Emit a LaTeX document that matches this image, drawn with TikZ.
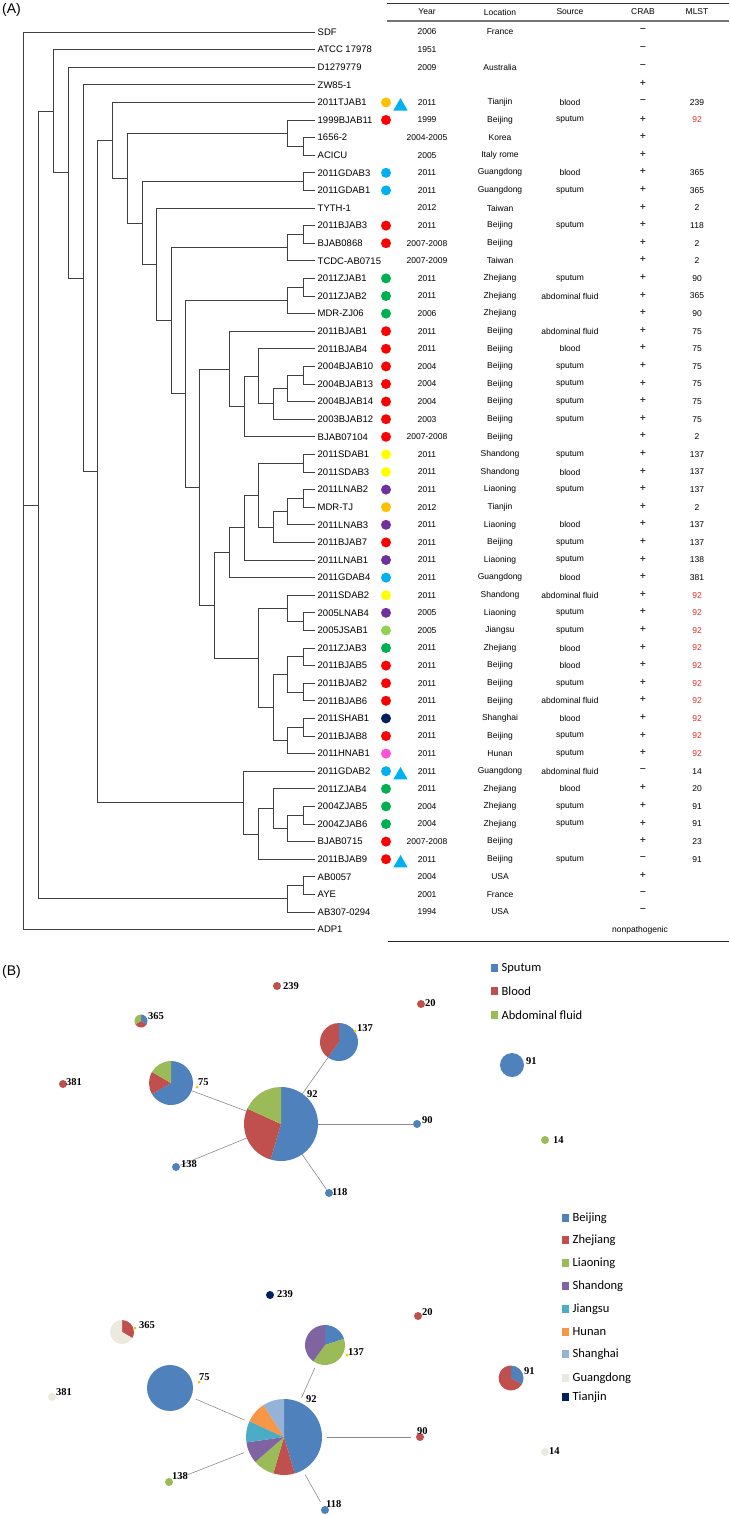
\documentclass[tikz,border=0pt]{standalone}
\usepackage{fontspec}
\setmainfont{Liberation Sans}
\newfontfamily\numfont{Liberation Serif}
\newfontfamily\legfont{Carlito}
\usepackage{tikz}
\usetikzlibrary{positioning,calc,shapes.geometric}
\definecolor{isored}{RGB}{255,0,0}
\definecolor{isoorange}{RGB}{255,192,0}
\definecolor{isocyan}{RGB}{0,176,240}
\definecolor{isogreen}{RGB}{0,176,80}
\definecolor{isoyellow}{RGB}{255,255,0}
\definecolor{isopurple}{RGB}{112,48,160}
\definecolor{isolime}{RGB}{146,208,80}
\definecolor{isonavy}{RGB}{0,32,96}
\definecolor{isopink}{RGB}{255,80,220}
\definecolor{mlstred}{RGB}{230,40,40}
\definecolor{spt}{RGB}{79,129,189}
\definecolor{bld}{RGB}{192,80,77}
\definecolor{abd}{RGB}{155,187,89}
\colorlet{bj}{spt}
\colorlet{zj}{bld}
\colorlet{ln}{abd}
\definecolor{sd}{RGB}{128,100,162}
\definecolor{js}{RGB}{75,172,198}
\definecolor{hn}{RGB}{247,150,70}
\definecolor{sh}{RGB}{149,179,215}
\definecolor{gd}{RGB}{236,234,222}
\definecolor{tj}{RGB}{0,32,96}
\tikzset{
  panel/.style ={inner sep=0pt,font=\fontsize{14}{16}\selectfont},
  leaf/.style  ={anchor=west,inner sep=2.5pt,font=\fontsize{9.5}{11}\selectfont},
  cell/.style  ={inner sep=0pt,font=\fontsize{8.5}{10}\selectfont},
  sign/.style  ={inner sep=0pt,font=\fontsize{10.5}{12}\selectfont},
  branch/.style={draw=black!75,line width=0.75pt},
  isodot/.style={circle,inner sep=0pt,minimum size=10pt},
  isotri/.style={regular polygon,regular polygon sides=3,fill=isocyan,inner sep=0pt,minimum size=16.5pt},
  piec/.style  ={circle,inner sep=0pt,outer sep=0pt},
  dot/.style   ={circle,inner sep=0pt,minimum size=8pt},
  tick/.style  ={circle,fill=isoorange,inner sep=0pt,minimum size=3pt},
  num/.style   ={anchor=west,inner sep=0pt,font=\numfont\bfseries\fontsize{10.5}{12}\selectfont},
  link/.style  ={draw=black!45,line width=0.6pt},
  linkb/.style ={link,shorten <=5pt,shorten >=5pt},
  legsq/.style ={rectangle,inner sep=0pt,minimum size=7.5pt},
  legtx/.style ={inner sep=0pt,font=\legfont\fontsize{12.5}{14}\selectfont},
}
% clade: name, x, first child, last child
\newcommand{\clade}[4]{%
  \path let \p1=(#3), \p2=(#4) in (#2pt,{0.5*(\y1+\y2)}) coordinate (#1);
  \draw[branch] (#1) |- (#3);
  \draw[branch] (#1) |- (#4);}
% pie: centre node, radius, slices start/end/colour
\newcommand{\drawpie}[3]{%
  \foreach \a/\b/\c in {#3}
    \fill[\c] (#1.center) -- ++(\a:#2pt) arc[start angle=\a,end angle=\b,radius=#2pt] -- cycle;}
\newcommand{\hot}[1]{\textcolor{mlstred}{#1}}

\begin{document}
\begin{tikzpicture}[x=1pt,y=-1pt]
  \useasboundingbox (0,0) rectangle (729,1515);
  % (A) tree
  \node[panel] (pA) at (11.5,10) {(A)};
  \foreach \i/\t in {0/SDF, 1/ATCC 17978, 2/D1279779, 3/ZW85-1, 4/2011TJAB1, 5/1999BJAB11,
      6/1656-2, 7/ACICU, 8/2011GDAB3, 9/2011GDAB1, 10/TYTH-1, 11/2011BJAB3, 12/BJAB0868,
      13/TCDC-AB0715, 14/2011ZJAB1, 15/2011ZJAB2, 16/MDR-ZJ06, 17/2011BJAB1, 18/2011BJAB4,
      19/2004BJAB10, 20/2004BJAB13, 21/2004BJAB14, 22/2003BJAB12, 23/BJAB07104, 24/2011SDAB1,
      25/2011SDAB3, 26/2011LNAB2, 27/MDR-TJ, 28/2011LNAB3, 29/2011BJAB7, 30/2011LNAB1,
      31/2011GDAB4, 32/2011SDAB2, 33/2005LNAB4, 34/2005JSAB1, 35/2011ZJAB3, 36/2011BJAB5,
      37/2011BJAB2, 38/2011BJAB6, 39/2011SHAB1, 40/2011BJAB8, 41/2011HNAB1, 42/2011GDAB2,
      43/2011ZJAB4, 44/2004ZJAB5, 45/2004ZJAB6, 46/BJAB0715, 47/2011BJAB9, 48/AB0057,
      49/AYE, 50/AB307-0294, 51/ADP1}
    \node[leaf] (l\i) at (315,{32+17.6*\i}) {\t};
  \foreach \i/\c in {4/isoorange, 5/isored, 8/isocyan, 9/isocyan, 11/isored, 12/isored,
      14/isogreen, 15/isogreen, 16/isogreen, 17/isored, 18/isored, 19/isored, 20/isored,
      21/isored, 22/isored, 23/isored, 24/isoyellow, 25/isoyellow, 26/isopurple, 27/isoorange,
      28/isopurple, 29/isored, 30/isopurple, 31/isocyan, 32/isoyellow, 33/isopurple, 34/isolime,
      35/isogreen, 36/isored, 37/isored, 38/isored, 39/isonavy, 40/isored, 41/isopink,
      42/isocyan, 43/isogreen, 44/isogreen, 45/isogreen, 46/isored, 47/isored}
    \node[isodot,fill=\c] (m\i) at (386,{32+17.6*\i}) {};
  \foreach \i in {4,42,47}
    \node[isotri] (t\i) at (400.5,{36+17.6*\i}) {};
  \clade{cA}{303}{l6}{l7}
  \clade{cB}{287}{l5}{cA}
  \clade{cGD}{303}{l8}{l9}
  \clade{cBJ3}{303}{l11}{l12}
  \clade{cTC}{287}{cBJ3}{l13}
  \clade{cZJ12}{303}{l14}{l15}
  \clade{cZJ}{287}{cZJ12}{l16}
  \clade{cB10}{303}{l19}{l20}
  \clade{cB14}{287}{cB10}{l21}
  \clade{cB12}{273}{cB14}{l22}
  \clade{cB4}{258}{l18}{cB12}
  \clade{cB7104}{244}{cB4}{l23}
  \clade{cB1}{229}{l17}{cB7104}
  \clade{cSD}{303}{l24}{l25}
  \clade{cLT}{303}{l26}{l27}
  \clade{cLN3}{287}{cLT}{l28}
  \clade{cBJ7}{273}{cLN3}{l29}
  \clade{cSD2}{258}{cSD}{cBJ7}
  \clade{cLN1}{244}{cSD2}{l30}
  \clade{cGD4}{229}{cLN1}{l31}
  \clade{cJS}{303}{l33}{l34}
  \clade{cSDAB2}{287}{l32}{cJS}
  \clade{cZJ3}{303}{l35}{l36}
  \clade{cBJ2}{303}{l37}{l38}
  \clade{cZB}{287}{cZJ3}{cBJ2}
  \clade{cSH}{303}{l39}{l40}
  \clade{cHN}{287}{cSH}{l41}
  \clade{cLow}{273}{cZB}{cHN}
  \clade{cST92}{258}{cSDAB2}{cLow}
  \clade{cMid}{214}{cGD4}{cST92}
  \clade{cBJ}{199}{cB1}{cMid}
  \clade{cZJall}{185}{cZJ}{cBJ}
  \clade{cTCall}{171}{cTC}{cZJall}
  \clade{cTY}{156}{l10}{cTCall}
  \clade{cGDall}{142}{cGD}{cTY}
  \clade{cBall}{127}{cB}{cGDall}
  \clade{cTJ}{112}{l4}{cBall}
  \clade{cZ56}{303}{l44}{l45}
  \clade{cB715}{287}{cZ56}{l46}
  \clade{cZ4}{273}{l43}{cB715}
  \clade{cBJ9}{258}{cZ4}{l47}
  \clade{cGD2}{243}{l42}{cBJ9}
  \clade{cCore}{97}{cTJ}{cGD2}
  \clade{cZW}{83}{l3}{cCore}
  \clade{cD12}{68}{l2}{cZW}
  \clade{cATCC}{53}{l1}{cD12}
  \clade{cAB}{303}{l48}{l49}
  \clade{cAB3}{287}{cAB}{l50}
  \clade{cIn}{38}{cATCC}{cAB3}
  \clade{root}{23}{l0}{l51}
  \draw[branch] (root |- cIn) -- (cIn);
  % (A) table
  \draw[black!80,line width=0.6pt] (387,3) -- (729,3);
  \draw[black!55,line width=1.2pt] (387,21) -- (729,21);
  \draw[black!85,line width=0.8pt] (388,941) -- (729,941);
  \foreach \n/\x/\t in {Year/427/Year, Loc/500/Location, Src/570/Source, Crab/643/CRAB, Mlst/697/MLST}
    \node[cell] (h\n) at (\x,12) {\t};
  \foreach \i/\yr/\loc/\src/\cb/\ml in {0/2006/France/{}/−/{}, 1/1951/{}/{}/−/{},
      2/2009/Australia/{}/−/{}, 3/{}/{}/{}/+/{}, 4/2011/Tianjin/blood/−/239,
      5/1999/Beijing/sputum/+/\hot{92}, 6/2004-2005/Korea/{}/+/{}, 7/2005/Italy rome/{}/+/{},
      8/2011/Guangdong/blood/+/365, 9/2011/Guangdong/sputum/+/365, 10/2012/Taiwan/{}/+/2,
      11/2011/Beijing/sputum/+/118, 12/2007-2008/Beijing/{}/+/2, 13/2007-2009/Taiwan/{}/+/2,
      14/2011/Zhejiang/sputum/+/90, 15/2011/Zhejiang/abdominal fluid/+/365,
      16/2006/Zhejiang/{}/+/90, 17/2011/Beijing/abdominal fluid/+/75,
      18/2011/Beijing/blood/+/75, 19/2004/Beijing/sputum/+/75, 20/2004/Beijing/sputum/+/75,
      21/2004/Beijing/sputum/+/75, 22/2003/Beijing/sputum/+/75, 23/2007-2008/Beijing/{}/+/2,
      24/2011/Shandong/sputum/+/137, 25/2011/Shandong/blood/+/137,
      26/2011/Liaoning/sputum/+/137, 27/2012/Tianjin/{}/+/2, 28/2011/Liaoning/blood/+/137,
      29/2011/Beijing/sputum/+/137, 30/2011/Liaoning/sputum/+/138,
      31/2011/Guangdong/blood/+/381, 32/2011/Shandong/abdominal fluid/+/\hot{92},
      33/2005/Liaoning/sputum/+/\hot{92}, 34/2005/Jiangsu/sputum/+/\hot{92},
      35/2011/Zhejiang/blood/+/\hot{92}, 36/2011/Beijing/blood/+/\hot{92},
      37/2011/Beijing/sputum/+/\hot{92}, 38/2011/Beijing/abdominal fluid/+/\hot{92},
      39/2011/Shanghai/blood/+/\hot{92}, 40/2011/Beijing/sputum/+/\hot{92},
      41/2011/Hunan/sputum/+/\hot{92}, 42/2011/Guangdong/abdominal fluid/−/14,
      43/2011/Zhejiang/blood/+/20, 44/2004/Zhejiang/sputum/+/91, 45/2004/Zhejiang/sputum/+/91,
      46/2007-2008/Beijing/{}/+/23, 47/2011/Beijing/sputum/−/91, 48/2004/USA/{}/+/{},
      49/2001/France/{}/−/{}, 50/1994/USA/{}/−/{}}{
    \node[cell] (yr\i) at (427,{32+17.6*\i}) {\yr};
    \node[cell] (lo\i) at (500,{32+17.6*\i}) {\loc};
    \node[cell] (so\i) at (570,{32+17.6*\i}) {\src};
    \node[sign] (cr\i) at (643,{31+17.6*\i}) {\cb};
    \node[cell] (st\i) at (697,{32+17.6*\i}) {\ml};
  }
  \node[cell] (cr51) at (640,930) {nonpathogenic};
  % (B) by source
  \node[panel] (pB) at (11.5,972) {(B)};
  \node[piec,minimum size=74pt] (p92a) at (281,1124) {};
  \node[piec,minimum size=44pt] (p75a) at (171,1083) {};
  \node[piec,minimum size=38pt] (p137a) at (339,1042) {};
  \node[piec,minimum size=13pt] (p365a) at (141,1021) {};
  \node[piec,minimum size=24pt] (p91a) at (512,1065) {};
  \foreach \n/\c/\x/\y in {239a/bld/277/986, 20a/bld/421/1004, 90a/spt/417/1124,
      14a/abd/545/1140, 381a/bld/63/1084, 138a/spt/176/1167, 118a/spt/329/1193}
    \node[dot,fill=\c] (d\n) at (\x,\y) {};
  \draw[link] (p92a) -- (p75a);
  \draw[link] (p92a) -- (p137a);
  \draw[link] (p92a) -- (d90a);
  \draw[link] (p92a) -- (d138a);
  \draw[link] (p92a) -- (d118a);
  \drawpie{p92a}{37}{90/-106.36/spt, -106.36/-204.55/bld, -204.55/-270/abd}
  \drawpie{p75a}{22}{90/-150/spt, -150/-210/bld, -210/-270/abd}
  \drawpie{p137a}{19}{90/-126/spt, -126/-270/bld}
  \drawpie{p365a}{6.5}{90/-30/spt, -30/-150/bld, -150/-270/abd}
  \drawpie{p91a}{12}{90/-270/spt}
  \node[tick] (k75a) at (197,1087) {};
  \node[tick] (k137a) at (355,1031) {};
  \foreach \n/\t/\x/\y in {239a/239/283/986, 20a/20/425/1003, 365a/365/148/1016,
      137a/137/357/1028, 75a/75/198/1082, 91a/91/526/1061, 90a/90/422/1120, 92a/92/307/1094,
      14a/14/553/1140, 381a/381/66/1082, 138a/138/181/1164, 118a/118/332/1192}
    \node[num] (n\n) at (\x,\y) {\t};
  \foreach \n/\c/\y/\t in {Spt/spt/968/Sputum, Bld/bld/991/Blood, Abd/abd/1015/Abdominal fluid}{
    \node[legsq,fill=\c] (q\n) at (494.5,\y) {};
    \node[legtx,right=3pt of q\n] (t\n) {\t};
  }
  % (B) by location
  \node[piec,minimum size=76pt] (p92b) at (284,1437) {};
  \node[piec,minimum size=46pt] (p75b) at (170,1388) {};
  \node[piec,minimum size=40pt] (p137b) at (325,1345) {};
  \node[piec,minimum size=24pt] (p365b) at (122,1332) {};
  \node[piec,minimum size=25pt] (p91b) at (511,1378) {};
  \foreach \n/\c/\x/\y in {239b/tj/270/1295, 20b/zj/418/1316, 381b/gd/52/1397,
      90b/zj/420/1437, 14b/gd/545/1452, 138b/ln/169/1482, 118b/bj/325/1510}
    \node[dot,fill=\c] (d\n) at (\x,\y) {};
  \draw[linkb] (p92b) -- (p75b);
  \draw[linkb] (p92b) -- (p137b);
  \draw[linkb] (p92b) -- (d90b);
  \draw[linkb] (p92b) -- (d138b);
  \draw[linkb] (p92b) -- (d118b);
  \drawpie{p92b}{38}{90/-73.64/bj, -73.64/-106.36/zj, -106.36/-139.09/ln, -139.09/-171.82/sd,
      -171.82/-204.55/js, -204.55/-237.27/hn, -237.27/-270/sh}
  \drawpie{p75b}{23}{90/-270/bj}
  \drawpie{p137b}{20}{90/18/bj, 18/-126/ln, -126/-270/sd}
  \drawpie{p365b}{12}{90/-30/zj, -30/-270/gd}
  \drawpie{p91b}{12.5}{90/-30/bj, -30/-270/zj}
  \node[tick] (k75b) at (199,1382) {};
  \node[tick] (k137b) at (347,1355) {};
  \node[tick] (k365b) at (135,1328) {};
  \foreach \n/\t/\x/\y in {239b/239/277/1294, 20b/20/422/1312, 365b/365/139/1325,
      137b/137/348/1352, 75b/75/199/1377, 381b/381/56/1392, 91b/91/524/1371, 92b/92/306/1399,
      90b/90/417/1431, 14b/14/549/1451, 138b/138/172/1476, 118b/118/326/1504}
    \node[num] (n\n) at (\x,\y) {\t};
  \foreach \n/\c/\y/\t in {Bj/bj/1218/Beijing, Zj/zj/1240/Zhejiang, Ln/ln/1263/Liaoning,
      Sd/sd/1286/Shandong, Js/js/1309/Jiangsu, Hn/hn/1332/Hunan, Sh/sh/1354/Shanghai,
      Gd/gd/1378/Guangdong, Tj/tj/1397/Tianjin}{
    \node[legsq,fill=\c] (q\n) at (565.5,\y) {};
    \node[legtx,right=3pt of q\n] (t\n) {\t};
  }
\end{tikzpicture}
\end{document}
